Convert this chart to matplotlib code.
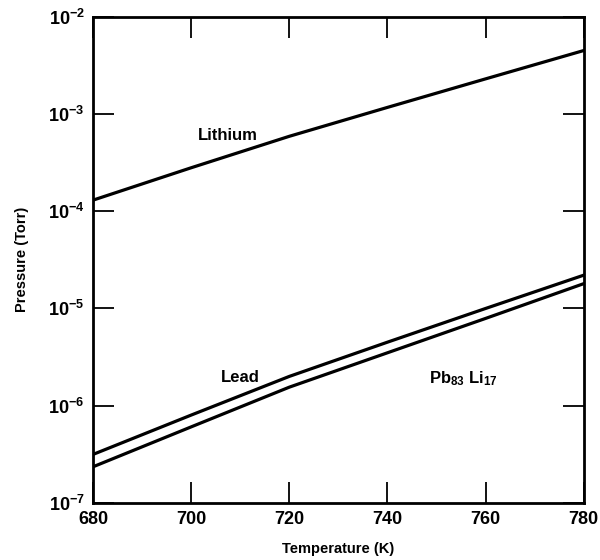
import matplotlib
matplotlib.use('Agg')
import matplotlib.pyplot as plt
from matplotlib.ticker import LogLocator, NullLocator

plt.rcParams['font.family'] = ['Liberation Sans', 'DejaVu Sans']
plt.rcParams['font.weight'] = 'bold'
plt.rcParams['mathtext.fontset'] = 'custom'
plt.rcParams['mathtext.rm'] = 'Liberation Sans:bold'
plt.rcParams['mathtext.bf'] = 'Liberation Sans:bold'
plt.rcParams['mathtext.it'] = 'Liberation Sans:italic:bold'
plt.rcParams['mathtext.default'] = 'rm'

# values
temperature = [680, 700, 720, 740, 760, 780]
lithium = [1.3e-4, 2.8e-4, 5.9e-4, 1.17e-3, 2.3e-3, 4.5e-3]
lead = [3.15e-7, 8.0e-7, 2.0e-6, 4.5e-6, 1.0e-5, 2.2e-5]
pb83li17 = [2.35e-7, 6.05e-7, 1.55e-6, 3.5e-6, 7.9e-6, 1.8e-5]

x_ticks = [680, 700, 720, 740, 760, 780]

fig = plt.figure(figsize=(6, 5.6), dpi=100)
ax = fig.add_axes([0.155, 0.102, 0.818, 0.868])

for series in (lithium, lead, pb83li17):
    ax.plot(temperature, series, color='black', lw=2.3)

ax.set_yscale('log')
ax.set_xlim(680, 780)
ax.set_ylim(1e-7, 1e-2)
ax.set_xticks(x_ticks)
ax.yaxis.set_major_locator(LogLocator(base=10, numticks=10))
ax.yaxis.set_minor_locator(NullLocator())

ax.tick_params(direction='in', length=15, width=1.3, top=True, right=True,
               labelsize=13, pad=6)
for s in ax.spines.values():
    s.set_linewidth(2)

ax.set_xlabel('Temperature (K)', fontsize=10.5, fontweight='bold', labelpad=10)
ax.set_ylabel('Pressure (Torr)', fontsize=10.5, fontweight='bold', labelpad=14)

ax.text(707.5, 6.0e-4, 'Lithium', fontsize=12, ha='center', va='center')
ax.text(710, 1.95e-6, 'Lead', fontsize=12, ha='center', va='center')
ax.text(755.5, 1.9e-6, 'Pb$_{83}$ Li$_{17}$', fontsize=12, ha='center', va='center')

fig.savefig('out.png', dpi=100)
